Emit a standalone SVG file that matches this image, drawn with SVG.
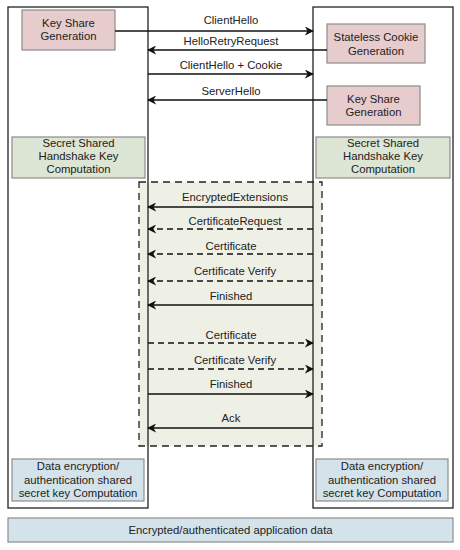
<svg xmlns="http://www.w3.org/2000/svg" width="460" height="550" viewBox="0 0 460 550">
<defs>
<marker id="ah" viewBox="0 0 10 10" refX="9" refY="5" markerWidth="9" markerHeight="9" markerUnits="userSpaceOnUse" orient="auto">
<path d="M0,0 L10,5 L0,10 L3,5 z" fill="#111"/>
</marker>
<style>
text{font-family:"Liberation Sans",Arial,sans-serif;font-size:11.3px;fill:#222;text-anchor:middle}
.col{fill:none;stroke:#222;stroke-width:1.3}
.pink{fill:#e6cccc;stroke:#8c8c8c;stroke-width:1.2}
.green{fill:#dde5d4;stroke:#8c8c8c;stroke-width:1.2}
.blue{fill:#d4e3ea;stroke:#8c8c8c;stroke-width:1.2}
.msg{stroke:#111;stroke-width:1.4;fill:none;marker-end:url(#ah)}
.dash{stroke-dasharray:6,4}
</style>
</defs>
<rect width="460" height="550" fill="#fff"/>
<g id="protected-region">
<rect x="139" y="182" width="183" height="264" fill="#eef0e6" stroke="#222" stroke-width="1.3" stroke-dasharray="7,5"/>
</g>
<g id="client-column"><rect class="col" x="8" y="7" width="140" height="501"/></g>
<g id="server-column"><rect class="col" x="313" y="7" width="140" height="501"/></g>
<g id="client-keyshare"><rect class="pink" x="22" y="10" width="93" height="40"/><text x="68.5" y="27">Key Share</text><text x="68.5" y="40">Generation</text></g>
<g id="server-cookie"><rect class="pink" x="327" y="24" width="98" height="39"/><text x="376" y="41">Stateless Cookie</text><text x="376" y="55">Generation</text></g>
<g id="server-keyshare"><rect class="pink" x="327" y="86" width="93" height="39"/><text x="373.5" y="103">Key Share</text><text x="373.5" y="116">Generation</text></g>
<g id="client-handshake-key"><rect class="green" x="12" y="137" width="133" height="41"/><text x="78.5" y="147">Secret Shared</text><text x="78.5" y="160">Handshake Key</text><text x="78.5" y="173">Computation</text></g>
<g id="server-handshake-key"><rect class="green" x="316" y="137" width="134" height="41"/><text x="383" y="147">Secret Shared</text><text x="383" y="160">Handshake Key</text><text x="383" y="173">Computation</text></g>
<g id="client-data-key"><rect class="blue" x="12" y="459" width="132" height="42"/><text x="78" y="470">Data encryption/</text><text x="78" y="483.5">authentication shared</text><text x="78" y="497">secret key Computation</text></g>
<g id="server-data-key"><rect class="blue" x="316" y="459" width="132" height="42"/><text x="382" y="470">Data encryption/</text><text x="382" y="483.5">authentication shared</text><text x="382" y="497">secret key Computation</text></g>
<g id="app-data"><rect class="blue" x="8" y="518" width="445" height="24"/><text x="230.5" y="534">Encrypted/authenticated application data</text></g>
<g id="connectors">
<line class="msg" x1="115" y1="31" x2="313" y2="31"/>
<line class="msg" x1="327" y1="50" x2="148" y2="50"/>
<line class="msg" x1="148" y1="74" x2="313" y2="74"/>
<line class="msg" x1="327" y1="100" x2="148" y2="100"/>
<line class="msg" x1="313" y1="207" x2="148" y2="207"/>
<line class="msg dash" x1="313" y1="229" x2="148" y2="229"/>
<line class="msg dash" x1="313" y1="254" x2="148" y2="254"/>
<line class="msg dash" x1="313" y1="281" x2="148" y2="281"/>
<line class="msg" x1="313" y1="305" x2="148" y2="305"/>
<line class="msg dash" x1="148" y1="343" x2="313" y2="343"/>
<line class="msg dash" x1="148" y1="369" x2="313" y2="369"/>
<line class="msg" x1="148" y1="394" x2="313" y2="394"/>
<line class="msg" x1="313" y1="428" x2="148" y2="428"/>
</g>
<g id="labels">
<text x="231" y="24">ClientHello</text>
<text x="231" y="45">HelloRetryRequest</text>
<text x="231" y="69">ClientHello + Cookie</text>
<text x="231" y="95">ServerHello</text>
<text x="235" y="201">EncryptedExtensions</text>
<text x="235" y="225">CertificateRequest</text>
<text x="231" y="250">Certificate</text>
<text x="235" y="275">Certificate Verify</text>
<text x="231" y="300">Finished</text>
<text x="231" y="339">Certificate</text>
<text x="235" y="364">Certificate Verify</text>
<text x="231" y="388">Finished</text>
<text x="231" y="422">Ack</text>
</g>
</svg>
